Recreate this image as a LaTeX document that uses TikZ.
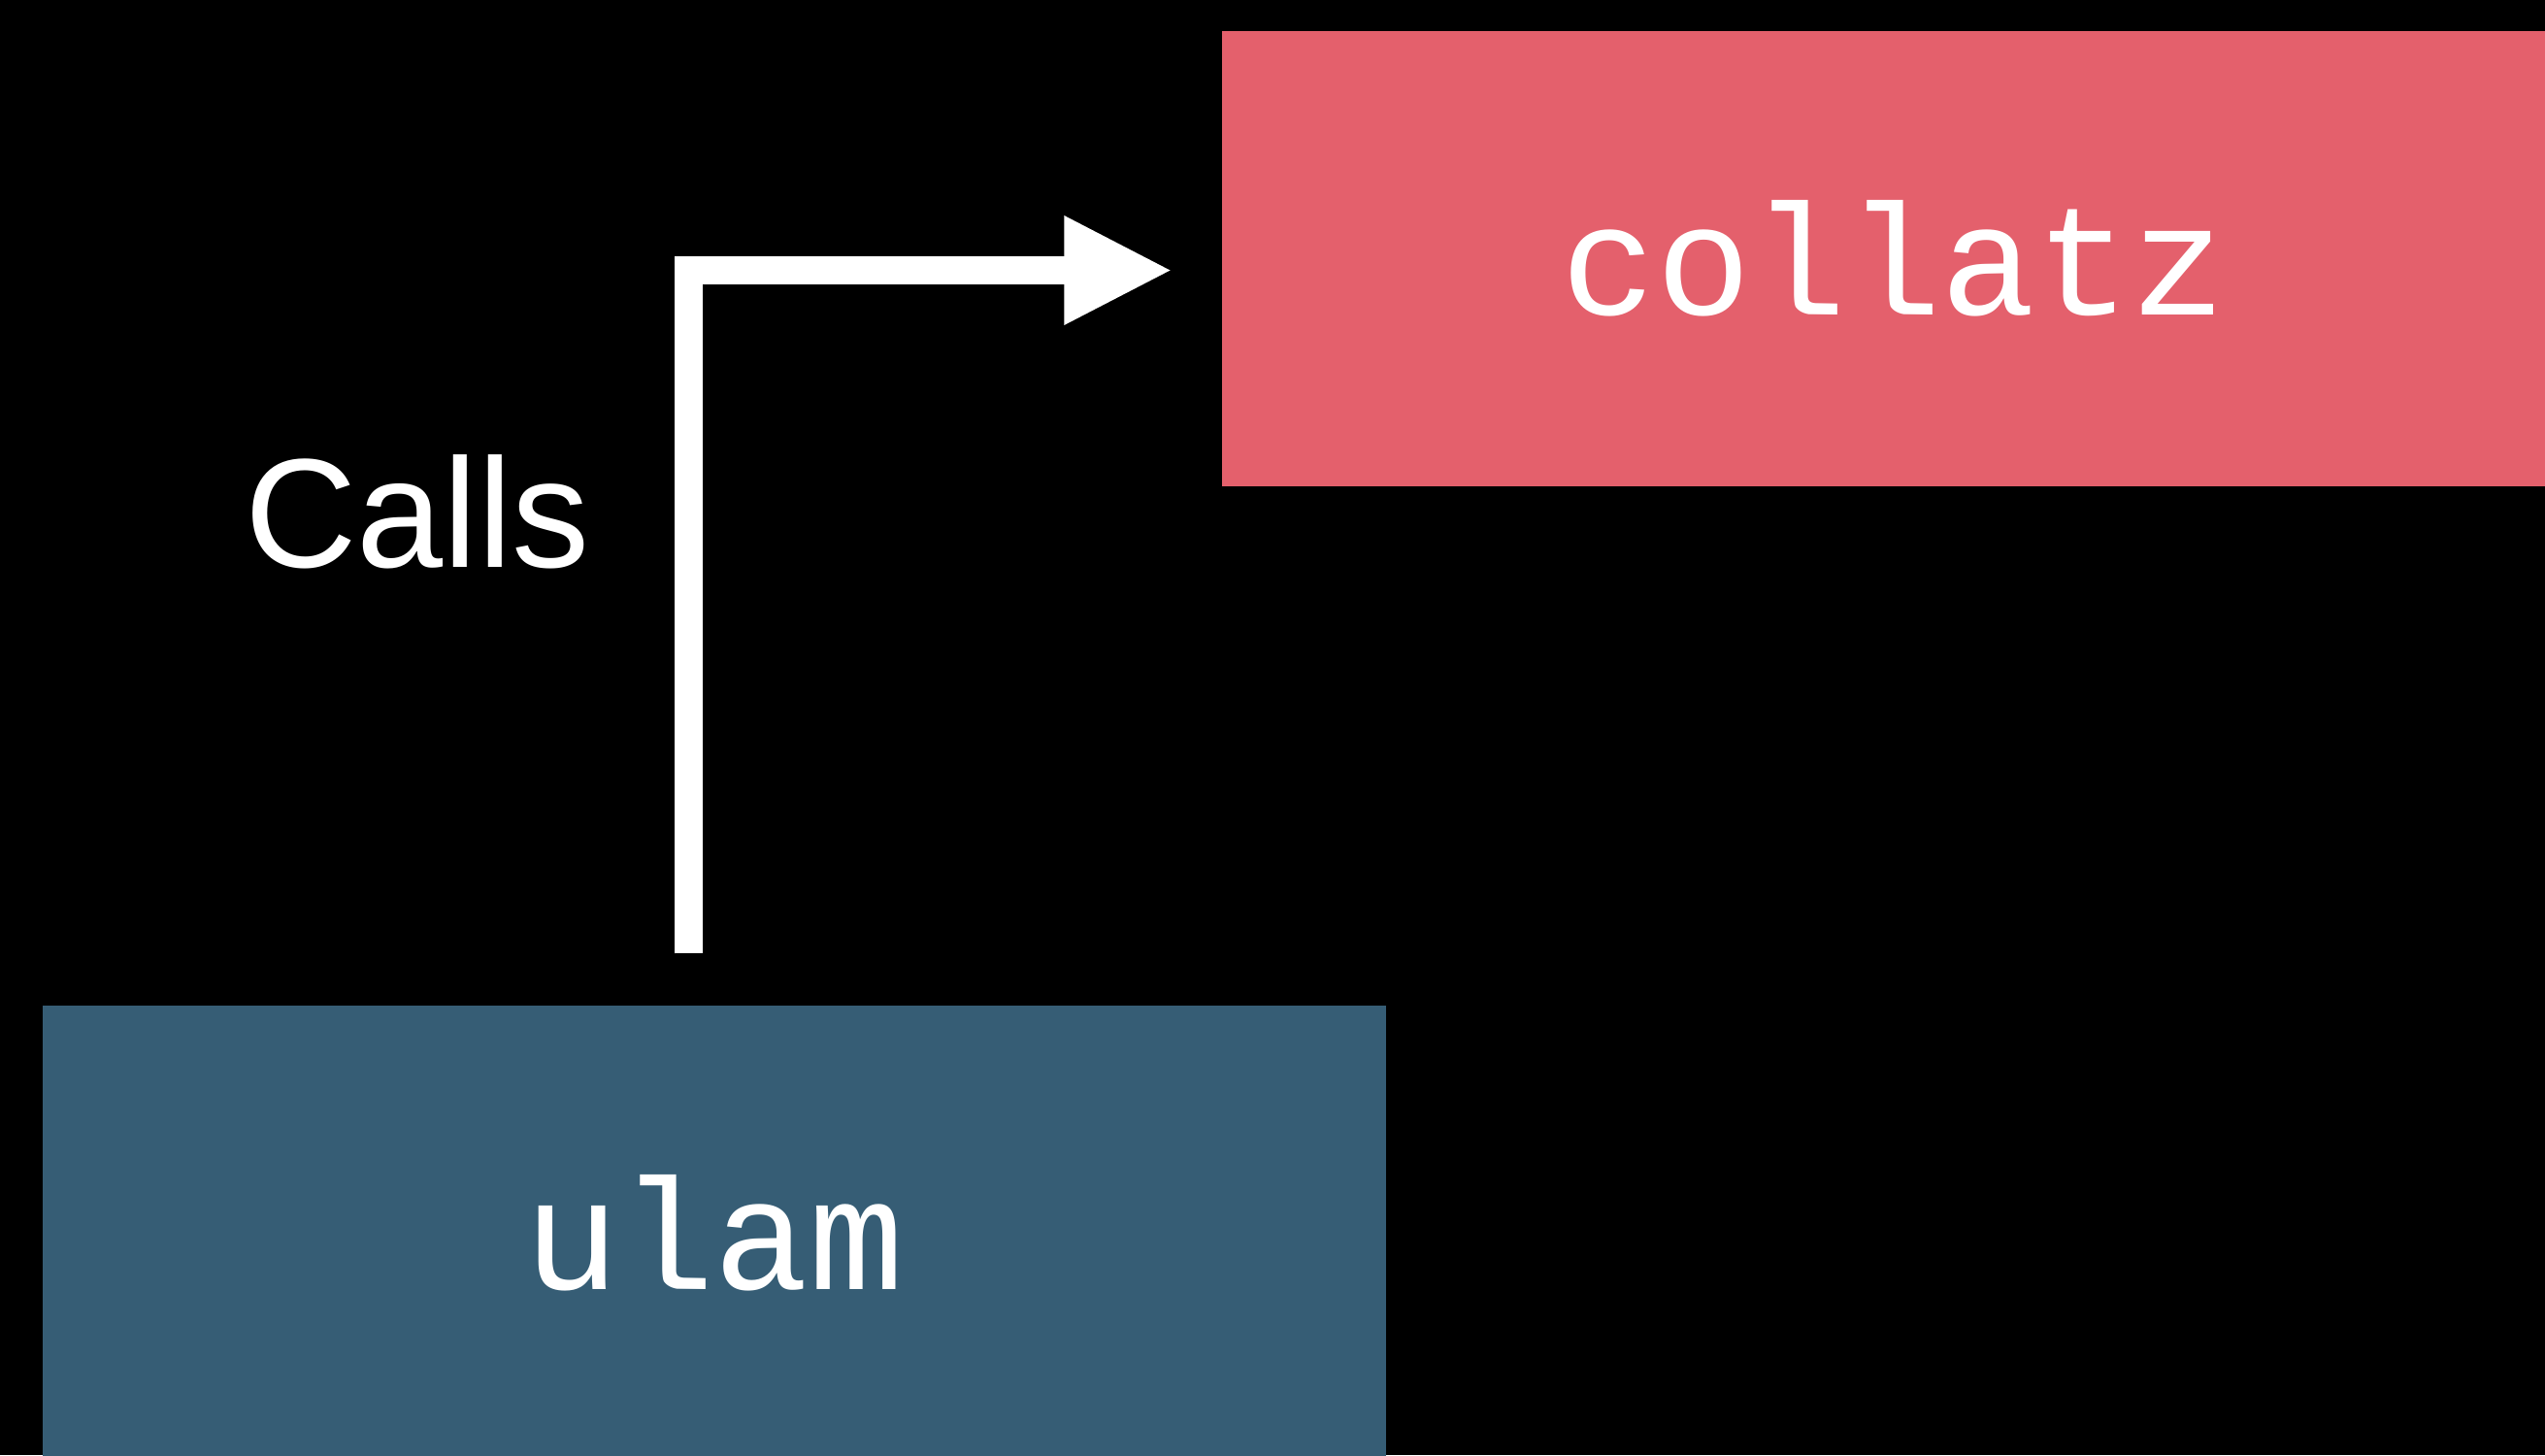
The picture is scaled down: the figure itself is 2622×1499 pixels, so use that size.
\documentclass[tikz,border=0pt]{standalone}
\usepackage{fontspec}
\setmainfont{Liberation Sans}
\newfontfamily\codefont{Liberation Mono}
\usetikzlibrary{arrows.meta}
\definecolor{boxred}{RGB}{228,96,108}
\definecolor{boxblue}{RGB}{54,93,117}
\begin{document}
\begin{tikzpicture}[x=1pt,y=-1pt,
  fnbox/.style={rectangle, inner sep=0pt, minimum width=1384pt, minimum height=469pt, text=white, font=\codefont\fontsize{163}{163}\selectfont},
  labeltext/.style={inner sep=0pt, text=white, font=\fontsize{160}{160}\selectfont},
  callarrow/.style={draw=white, line width=29pt, line join=miter, -{Triangle[length=112pt,width=104pt]}}]
\fill[black] (0,0) rectangle (2622,1499);
\useasboundingbox (0,0) rectangle (2622,1499);
\node[fnbox, fill=boxred] (collatz) at (1951,266.5) {collatz};
\node[fnbox, fill=boxblue] (ulam) at (736,1270) {ulam};
\node[labeltext, anchor=base west] (calls) at (252,584.6) {Calls};
\draw[callarrow] ([xshift=-26.5pt,yshift=53pt]ulam.north) |- ([xshift=-50.5pt,yshift=-12pt]collatz.west);
\end{tikzpicture}
\end{document}
